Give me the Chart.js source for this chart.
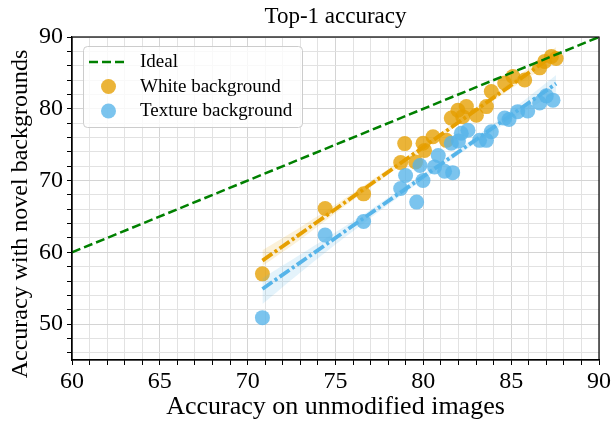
<!DOCTYPE html>
<html>
<head>
<meta charset="utf-8">
<script src="https://cdn.jsdelivr.net/npm/chart.js@4/dist/chart.umd.min.js"></script>
<style>
  html, body { margin: 0; padding: 0; background: #fff; }
  #wrap { width: 613px; height: 421px; }
</style>
</head>
<body>
<div id="wrap"><canvas id="c" width="613" height="421"></canvas></div>
<script>
// ---- Data ----
const chartTitle = "Top-1 accuracy";
const xTitle = "Accuracy on unmodified images";
const yTitle = "Accuracy with novel backgrounds";
const legendLabels = ["Ideal", "White background", "Texture background"];

const idealX = [60, 90];
const idealY = [60, 90];

const whiteX = [70.84, 74.41, 76.60, 78.71, 78.94, 79.56, 80.07, 79.98, 80.55, 81.31, 81.59, 81.97, 82.24, 82.45, 83.02, 83.59, 83.87, 84.63, 85.10, 85.77, 86.62, 86.91, 87.29, 87.56];
const whiteY = [57.0, 66.1, 68.15, 72.5, 75.15, 72.6, 74.2, 75.2, 76.1, 75.6, 78.7, 79.8, 78.9, 80.3, 79.1, 80.3, 82.4, 83.6, 84.5, 84.0, 85.7, 86.6, 87.3, 87.0];

const textureX = [70.84, 74.41, 76.60, 78.71, 78.99, 79.62, 79.98, 79.81, 80.64, 80.85, 81.21, 81.67, 81.59, 82.00, 82.16, 82.54, 83.20, 83.59, 83.87, 84.63, 84.88, 85.37, 85.94, 86.62, 87.00, 87.38];
const textureY = [50.9, 62.4, 64.3, 68.9, 70.7, 67.0, 70.0, 72.1, 71.9, 73.5, 71.3, 71.1, 75.2, 75.5, 76.6, 77.0, 75.6, 75.6, 76.8, 78.7, 78.5, 79.6, 79.7, 80.8, 81.8, 81.2];

// regression lines (end points) and confidence bands
const fitX = [70.84, 87.56];
const whiteFitY = [58.85, 87.7];
const textureFitY = [54.9, 83.5];

const bandX = [70.84, 73, 75, 77, 79, 81, 83, 85, 87.56];
const whiteBandUpper = [60.3, 63.5, 66.65, 69.95, 73.28, 76.7, 80.2, 83.8, 88.6];
const whiteBandLower = [58.1, 61.8, 65.45, 69.05, 72.58, 76.08, 79.48, 82.8, 86.8];
const textureBandUpper = [56.4, 59.7, 62.8, 65.95, 69.3, 72.67, 76.14, 79.76, 84.7];
const textureBandLower = [52.8, 57.2, 61.1, 64.8, 68.4, 71.87, 75.24, 78.46, 82.3];

const xMin = 60, xMax = 90, xMinorStep = 1, xMajorStep = 5;
const yMin = 45, yMax = 90, yMinorStep = 2, yMajorStep = 10;

// ---- helpers ----
const pts = (xs, ys) => xs.map((x, i) => ({ x: x, y: ys[i] }));
const SERIF = '"Liberation Serif", "DejaVu Serif", serif';
const ORANGE = '#E69F00', BLUE = '#56B4E9', GREEN = '#008000';
const orangeA = 'rgba(230,159,0,0.78)', blueA = 'rgba(86,180,233,0.78)';

const frameAndText = {
  id: 'frameAndText',
  afterDraw(chart) {
    const ctx = chart.ctx, a = chart.chartArea;
    ctx.save();
    // frame
    ctx.strokeStyle = '#000';
    ctx.lineWidth = 1.2;
    ctx.strokeRect(a.left, a.top, a.right - a.left, a.bottom - a.top);
    // titles
    ctx.fillStyle = '#000';
    ctx.textAlign = 'center';
    ctx.textBaseline = 'middle';
    ctx.font = '23px ' + SERIF;
    ctx.fillText(chartTitle, (a.left + a.right) / 2, 17);
    ctx.font = '26px ' + SERIF;
    ctx.fillText(xTitle, (a.left + a.right) / 2, 407);
    ctx.save();
    ctx.translate(21, 214);
    ctx.rotate(-Math.PI / 2);
    ctx.font = '24px ' + SERIF;
    ctx.fillText(yTitle, 0, 0);
    ctx.restore();
    // legend
    const lx = 83.5, ly = 46.5, lw = 219, lh = 81, r = 4;
    ctx.beginPath();
    ctx.moveTo(lx + r, ly);
    ctx.arcTo(lx + lw, ly, lx + lw, ly + lh, r);
    ctx.arcTo(lx + lw, ly + lh, lx, ly + lh, r);
    ctx.arcTo(lx, ly + lh, lx, ly, r);
    ctx.arcTo(lx, ly, lx + lw, ly, r);
    ctx.closePath();
    ctx.fillStyle = 'rgba(255,255,255,0.8)';
    ctx.fill();
    ctx.strokeStyle = '#cccccc';
    ctx.lineWidth = 1;
    ctx.stroke();
    // Ideal sample
    ctx.beginPath();
    ctx.setLineDash([9, 4]);
    ctx.strokeStyle = GREEN;
    ctx.lineWidth = 2.5;
    ctx.moveTo(89, 62);
    ctx.lineTo(126, 62);
    ctx.stroke();
    ctx.setLineDash([]);
    // circles
    ctx.fillStyle = orangeA;
    ctx.beginPath(); ctx.arc(108.5, 86.5, 7.5, 0, Math.PI * 2); ctx.fill();
    ctx.fillStyle = blueA;
    ctx.beginPath(); ctx.arc(108.5, 111, 7.5, 0, Math.PI * 2); ctx.fill();
    // labels
    ctx.fillStyle = '#000';
    ctx.textAlign = 'left';
    ctx.font = '19px ' + SERIF;
    ctx.fillText(legendLabels[0], 140, 62);
    ctx.fillText(legendLabels[1], 140, 87);
    ctx.fillText(legendLabels[2], 140, 111.5);
    ctx.restore();
  }
};

const lineDs = (label, xs, ys, color, dash, width) => ({
  type: 'line', label, data: pts(xs, ys), borderColor: color, borderWidth: width,
  borderDash: dash, pointRadius: 0, fill: false, tension: 0, showLine: true, borderCapStyle: 'butt'
});
const bandDs = (label, xs, ys, fill, color) => ({
  type: 'line', label, data: pts(xs, ys), borderWidth: 0, borderColor: 'rgba(0,0,0,0)',
  pointRadius: 0, fill: fill, backgroundColor: color, tension: 0.3, showLine: true
});
const scatterDs = (label, xs, ys, color) => ({
  type: 'scatter', label, data: pts(xs, ys), backgroundColor: color, borderWidth: 0,
  pointRadius: 7.5, pointHoverRadius: 7.5
});

new Chart(document.getElementById('c'), {
  type: 'scatter',
  data: {
    datasets: [
      lineDs(legendLabels[0], idealX, idealY, GREEN, [9, 4], 2.5),
      lineDs('texture fit', fitX, textureFitY, BLUE, [12, 3, 3, 3], 3.8),
      bandDs('texture band upper', bandX, textureBandUpper, '+1', 'rgba(86,180,233,0.16)'),
      bandDs('texture band lower', bandX, textureBandLower, false, 'rgba(0,0,0,0)'),
      scatterDs(legendLabels[2], textureX, textureY, blueA),
      lineDs('white fit', fitX, whiteFitY, ORANGE, [12, 3, 3, 3], 3.8),
      bandDs('white band upper', bandX, whiteBandUpper, '+1', 'rgba(230,159,0,0.15)'),
      bandDs('white band lower', bandX, whiteBandLower, false, 'rgba(0,0,0,0)'),
      scatterDs(legendLabels[1], whiteX, whiteY, orangeA)
    ]
  },
  options: {
    responsive: false,
    animation: false,
    devicePixelRatio: 1,
    layout: { padding: { left: 0, top: 37, right: 14, bottom: 0 } },
    plugins: { legend: { display: false }, title: { display: false }, tooltip: { enabled: false } },
    scales: {
      x: {
        type: 'linear', min: xMin, max: xMax,
        afterFit(s) { s.height = 61; },
        afterBuildTicks(s) {
          const t = [];
          for (let v = xMin; v <= xMax; v += xMinorStep) t.push({ value: v });
          s.ticks = t;
        },
        ticks: {
          autoSkip: false, maxRotation: 0, padding: 2, color: '#000',
          font: { family: SERIF, size: 24 },
          callback: v => (v % xMajorStep === 0 ? String(v) : '')
        },
        grid: {
          color: c => (c.tick && c.tick.value % xMajorStep === 0 ? '#d4d4d4' : '#e2e2e2'),
          lineWidth: 1, tickLength: 5, tickColor: '#000'
        },
        border: { display: true, color: '#000', width: 1.2 }
      },
      y: {
        type: 'linear', min: yMin, max: yMax,
        afterFit(s) { s.width = 72; },
        afterBuildTicks(s) {
          const t = [];
          for (let v = yMin + 1; v <= yMax; v += yMinorStep) t.push({ value: v });
          s.ticks = t;
        },
        ticks: {
          autoSkip: false, padding: 4, color: '#000',
          font: { family: SERIF, size: 24 },
          callback: v => (v % yMajorStep === 0 ? String(v) : '')
        },
        grid: {
          color: c => (c.tick && c.tick.value % yMajorStep === 0 ? '#d4d4d4' : '#e2e2e2'),
          lineWidth: 1, tickLength: 5, tickColor: '#000'
        },
        border: { display: true, color: '#000', width: 1.2 }
      }
    }
  },
  plugins: [frameAndText]
});
</script>
</body>
</html>
